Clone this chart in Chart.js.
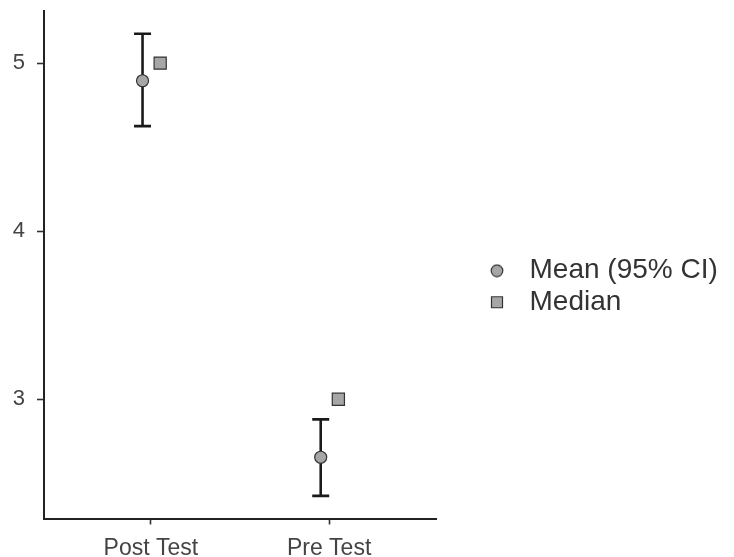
<!DOCTYPE html>
<html>
<head>
<meta charset="utf-8">
<script src="https://cdn.jsdelivr.net/npm/chart.js@4/dist/chart.umd.min.js"></script>
<style>
  html, body { margin: 0; padding: 0; background: #fff; }
  #wrap { width: 734px; height: 557px; position: relative; }
</style>
</head>
<body>
<div id="wrap"><canvas id="chart"></canvas></div>
<script>
// values
const categories = ['Post Test', 'Pre Test'];
const meanValues = [4.895, 2.655];
const ciLower = [4.625, 2.425];
const ciUpper = [5.175, 2.88];
const medianValues = [5.0, 3.0];
const yTicks = [3, 4, 5];
const legendLabels = ['Mean (95% CI)', 'Median'];

const DODGE_MEAN = -0.047;
const DODGE_MEDIAN = 0.052;
const FILL = '#a6a6a6';
const EDGE = '#333333';
const FONT = "'Liberation Sans', Arial, sans-serif";
const LEGEND_SIZE = 28;
const LEGEND_PAD = 3.5;
const LEGEND_BOX = 37;
const LEGEND_LEFT = 475;

const meanPoints = meanValues.map((v, i) => ({ x: i + 1 + DODGE_MEAN, y: v }));
const medianPoints = medianValues.map((v, i) => ({ x: i + 1 + DODGE_MEDIAN, y: v }));
const whiskerPoints = [];
categories.forEach((c, i) => {
    const x = i + 1 + DODGE_MEAN;
    whiskerPoints.push({ x, y: ciLower[i] }, { x, y: ciUpper[i] }, { x, y: null });
});

// small marker images for the legend
const makeMarker = (shape) => {
    const c = document.createElement('canvas');
    c.width = 14; c.height = 14;
    const g = c.getContext('2d');
    g.fillStyle = FILL;
    g.strokeStyle = EDGE;
    g.lineWidth = 1.2;
    g.beginPath();
    if (shape === 'circle') g.arc(7, 7, 5.8, 0, Math.PI * 2);
    else g.rect(1.5, 1.5, 11, 11);
    g.fill();
    g.stroke();
    return c;
};
const legendMarkers = [makeMarker('circle'), makeMarker('rect')];

// legend width is padding + box + half font + text + 10, so pad the right side to land it at LEGEND_LEFT
const measureCtx = document.createElement('canvas').getContext('2d');
measureCtx.font = `${LEGEND_SIZE}px ${FONT}`;
const textW = Math.max(...legendLabels.map(t => measureCtx.measureText(t).width));
const legendW = LEGEND_PAD + LEGEND_BOX + LEGEND_SIZE / 2 + textW + 10;
const rightPad = Math.max(0, 734 - LEGEND_LEFT - legendW);

const noEdgePadding = s => { s.paddingTop = 0; s.paddingBottom = 0; s.paddingLeft = 0; s.paddingRight = 0; };

new Chart(document.getElementById('chart'), {
    type: 'scatter',
    data: {
        datasets: [
            {
                label: legendLabels[0],
                data: meanPoints,
                pointStyle: 'circle',
                pointRadius: 6,
                pointBorderWidth: 1.2,
                backgroundColor: FILL,
                borderColor: EDGE,
                order: 0
            },
            {
                label: legendLabels[1],
                data: medianPoints,
                pointStyle: 'rect',
                pointRadius: 8.6,
                pointBorderWidth: 1.2,
                backgroundColor: FILL,
                borderColor: EDGE,
                order: 1
            },
            {
                label: 'ci',
                data: whiskerPoints,
                showLine: true,
                spanGaps: false,
                borderColor: '#1a1a1a',
                borderWidth: 2.6,
                pointStyle: 'line',
                pointRadius: 8.5,
                pointBorderWidth: 2.6,
                pointBorderColor: '#1a1a1a',
                order: 2
            }
        ]
    },
    options: {
        responsive: true,
        maintainAspectRatio: false,
        animation: false,
        layout: { padding: { left: 0, right: rightPad, top: 11, bottom: -5 } },
        scales: {
            x: {
                type: 'linear',
                min: 0.4,
                max: 2.6,
                afterBuildTicks: s => { s.ticks = categories.map((c, i) => ({ value: i + 1 })); },
                afterFit: s => { s.height = 43.5; noEdgePadding(s); },
                grid: { drawOnChartArea: false, drawTicks: true, tickLength: 6, tickWidth: 1.6, tickColor: '#333' },
                border: { display: true, color: '#222', width: 2 },
                ticks: {
                    padding: 10,
                    color: '#444',
                    font: { family: FONT, size: 23 },
                    callback: v => categories[v - 1]
                }
            },
            y: {
                min: 2.2905,
                max: 5.3095,
                afterBuildTicks: s => { s.ticks = yTicks.map(v => ({ value: v })); },
                afterFit: s => { s.width = 44; noEdgePadding(s); },
                grid: { drawOnChartArea: false, drawTicks: true, tickLength: 7, tickWidth: 1.6, tickColor: '#333' },
                border: { display: true, color: '#222', width: 2 },
                ticks: { padding: 12, color: '#444', font: { family: FONT, size: 22 } }
            },
            gap: {
                position: 'right',
                display: true,
                grid: { display: false },
                border: { display: false },
                ticks: { display: false },
                afterFit: s => { s.width = 39; noEdgePadding(s); }
            }
        },
        plugins: {
            tooltip: { enabled: false },
            legend: {
                position: 'right',
                align: 'center',
                maxWidth: 400,
                labels: {
                    usePointStyle: true,
                    pointStyleWidth: LEGEND_BOX,
                    padding: LEGEND_PAD,
                    color: '#333',
                    font: { family: FONT, size: LEGEND_SIZE },
                    generateLabels: () => legendLabels.map((text, i) => ({
                        text,
                        pointStyle: legendMarkers[i],
                        fillStyle: FILL,
                        strokeStyle: EDGE,
                        lineWidth: 0,
                        hidden: false,
                        datasetIndex: i,
                        fontColor: '#333'
                    }))
                }
            }
        }
    }
});
</script>
</body>
</html>
